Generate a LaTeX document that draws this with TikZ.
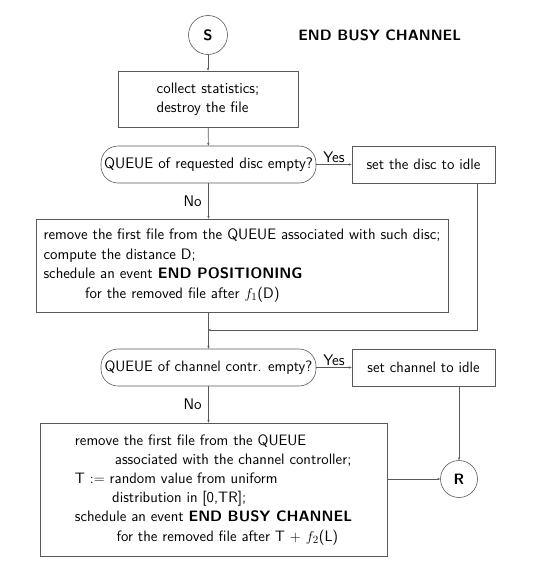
\documentclass[tikz,border=0pt]{standalone}
\usetikzlibrary{arrows.meta}
\renewcommand{\familydefault}{\sfdefault}
\newlength\tmpw
\newcommand\calcfs[3]{%
  \settowidth\tmpw{\sffamily\fontsize{10}{12}\selectfont #3}%
  \pgfmathsetmacro#1{10*#2/\tmpw}%
  \global\let#1#1}
\AtBeginDocument{%
\calcfs\fsA{105}{collect statistics;}%
\calcfs\fsB{214}{QUEUE of requested disc empty?}%
\calcfs\fsC{116.7}{set the disc to idle}%
\calcfs\fsT{162.7}{\bfseries END BUSY CHANNEL}%
\calcfs\fsY{21.7}{Yes}%
\calcfs\fsD{406.7}{remove the first file from the QUEUE associated with such disc;}%
\calcfs\fsE{213}{QUEUE of channel contr. empty?}%
\calcfs\fsF{115}{set channel to idle}%
\calcfs\fsG{280}{schedule an event \textbf{END BUSY CHANNEL}}%
}
\begin{document}
\begin{tikzpicture}[x=1pt,y=-1pt,
  line/.style={draw=black!65,line width=0.6pt},
  arr/.style={line,-{Stealth[length=3pt,width=2.4pt]}},
  box/.style={line,rectangle,inner sep=0pt,align=left},
  dec/.style={line,rectangle,rounded corners=17pt,inner sep=0pt,minimum width=215pt,minimum height=37pt},
  term/.style={line,circle,inner sep=0pt},
  lbl/.style={font=\fontsize{\fsY}{14}\selectfont,inner sep=1.5pt}]
\useasboundingbox (0,0) rectangle (540,578);
\node[term,minimum size=39pt,font=\bfseries\fontsize{\fsT}{14}\selectfont] (S) at (208,35) {S};
\node[font=\bfseries\fontsize{\fsT}{14}\selectfont,inner sep=0pt] (title) at (379.7,35) {END BUSY CHANNEL};
\node[box,minimum width=180pt,minimum height=56pt,font=\fontsize{\fsA}{19}\selectfont] (b1) at (208,99) {collect statistics;\\destroy the file};
\node[dec,font=\fontsize{\fsB}{14}\selectfont] (d1) at (208.5,164.5) {QUEUE of requested disc empty?};
\node[box,align=center,minimum width=143pt,minimum height=37pt,font=\fontsize{\fsC}{14}\selectfont] (idle1) at (423.5,164.5) {set the disc to idle};
\node[box,minimum width=412pt,minimum height=93pt,font=\fontsize{\fsD}{19.4}\selectfont] (b2) at (242,265.5) {remove the first file from the QUEUE associated with such disc;\\compute the distance D;\\schedule an event \textbf{END POSITIONING}\\\hspace*{41.7pt}for the removed file after $f_1$(D)};
\node[dec,font=\fontsize{\fsE}{14}\selectfont] (d2) at (208.5,367.5) {QUEUE of channel contr. empty?};
\node[box,align=center,minimum width=143pt,minimum height=37pt,font=\fontsize{\fsF}{14}\selectfont] (idle2) at (423.5,367.5) {set channel to idle};
\node[box,minimum width=347pt,minimum height=133pt,font=\fontsize{\fsG}{19.2}\selectfont] (b3) at (213.5,489.5) {remove the first file from the QUEUE\\\hspace*{40pt}associated with the channel controller;\\T $:=$ random value from uniform\\\hspace*{37.3pt}distribution in [0,TR];\\schedule an event \textbf{END BUSY CHANNEL}\\\hspace*{41.6pt}for the removed file after T $+$ $f_2$(L)};
\node[term,minimum size=37pt,font=\bfseries\fontsize{\fsT}{14}\selectfont] (R) at (459,479) {R};
\coordinate (j1) at (477,330);
\coordinate (j2) at (208,330);
\draw[arr] (S) -- (b1);
\draw[arr] (b1) -- (d1);
\draw[arr] (d1) -- node[lbl,above] {Yes} (idle1);
\draw[arr] (d1.south) -- node[lbl,left,xshift=-5pt] {No} (d1.south |- b2.north);
\draw[arr] (idle1.south -| j1) -- (j1) -- (j2);
\draw[arr] (b2.south -| d2.north) -- (d2.north);
\draw[arr] (d2) -- node[lbl,above] {Yes} (idle2);
\draw[arr] (d2.south) -- node[lbl,left,xshift=-5pt] {No} (d2.south |- b3.north);
\draw[arr] (R.north |- idle2.south) -- (R.north);
\draw[arr] (b3.east |- R.west) -- (R.west);
\end{tikzpicture}
\end{document}
